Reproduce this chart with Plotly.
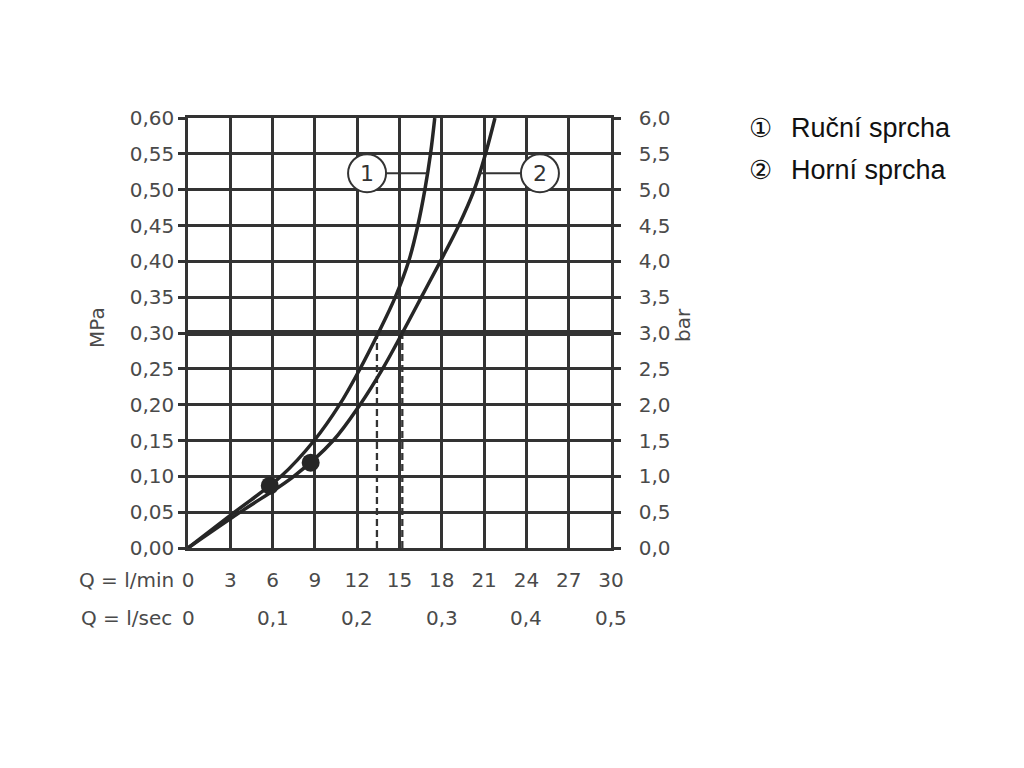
import numpy as np
import plotly.graph_objects as go

# ---------------- data ----------------
q_ticks = [0, 3, 6, 9, 12, 15, 18, 21, 24, 27, 30]
q_tick_labels = ["0", "3", "6", "9", "12", "15", "18", "21", "24", "27", "30"]
lsec_positions = [0, 6, 12, 18, 24, 30]
lsec_labels = ["0", "0,1", "0,2", "0,3", "0,4", "0,5"]
mpa_ticks = [0.00, 0.05, 0.10, 0.15, 0.20, 0.25, 0.30, 0.35, 0.40, 0.45, 0.50, 0.55, 0.60]
mpa_labels = ["0,00", "0,05", "0,10", "0,15", "0,20", "0,25", "0,30", "0,35",
              "0,40", "0,45", "0,50", "0,55", "0,60"]
bar_ticks = [0.0, 0.5, 1.0, 1.5, 2.0, 2.5, 3.0, 3.5, 4.0, 4.5, 5.0, 5.5, 6.0]
bar_labels = ["0,0", "0,5", "1,0", "1,5", "2,0", "2,5", "3,0", "3,5",
              "4,0", "4,5", "5,0", "5,5", "6,0"]

# curve 1 (Ruční sprcha)
curve1_q = [0, 3.3, 6.6, 8.95, 10.75, 12.2, 13.5, 14.7, 15.65, 16.3, 16.8, 17.2, 17.5]
curve1_p = [0.00, 0.05, 0.10, 0.15, 0.20, 0.25, 0.30, 0.35, 0.40, 0.45, 0.50, 0.55, 0.60]
# curve 2 (Horní sprcha)
curve2_q = [0, 3.7, 7.5, 10.3, 12.2, 13.8, 15.2, 16.55, 17.9, 19.2, 20.3, 21.1, 21.77]
curve2_p = [0.00, 0.05, 0.10, 0.15, 0.20, 0.25, 0.30, 0.35, 0.40, 0.45, 0.50, 0.55, 0.60]

dots_q = [5.8, 8.7]
dots_p = [0.087, 0.119]

ref_pressure = 0.30
ref_flows = [13.4, 15.2]

label_numbers = ["1", "2"]
label_names = ["Ruční sprcha", "Horní sprcha"]
label_symbols = ["\u2460", "\u2461"]

# ---------------- style ----------------
INK = "#333333"
CURVE = "#262626"
TXT = "#4a4a4a"
FONT = "DejaVu Sans"

ML, MT, PW, PH = 180, 110, 423, 430   # plot area (page has 8px body margin)


def px_x(px):
    return (px - 188) / PW


def px_y(py):
    return (548 - py) / PH


fig = go.Figure()

# thick reference line
fig.add_trace(go.Scatter(x=[q_ticks[0], q_ticks[-1]], y=[ref_pressure, ref_pressure],
                         mode="lines", line=dict(color=INK, width=6),
                         hoverinfo="skip", showlegend=False))
# dashed verticals
for fq in ref_flows:
    fig.add_trace(go.Scatter(x=[fq, fq], y=[0, ref_pressure], mode="lines",
                             line=dict(color=INK, width=2.3, dash="7px,4px"),
                             hoverinfo="skip", showlegend=False))

for cq, cp in [(curve1_q, curve1_p), (curve2_q, curve2_p)]:
    fig.add_trace(go.Scatter(x=cq, y=cp, mode="lines",
                             line=dict(color=CURVE, width=3.5, shape="spline", smoothing=1.0),
                             hoverinfo="skip", showlegend=False))

fig.add_trace(go.Scatter(x=dots_q, y=dots_p, mode="markers",
                         marker=dict(color=CURVE, size=18),
                         hoverinfo="skip", showlegend=False))

# dummy trace for right axis
fig.add_trace(go.Scatter(x=[0], y=[0], yaxis="y2", mode="markers",
                         marker=dict(opacity=0), hoverinfo="skip", showlegend=False))

# circled curve labels with connectors
label_y = 0.523
circle_x = [12.7, 24.96]
r_px = 19
px_per_q = PW / 30
curve_at_label = [float(np.interp(label_y, curve1_p, curve1_q)),
                  float(np.interp(label_y, curve2_p, curve2_q))]
shapes = []
annotations = []
for i in range(2):
    cx = circle_x[i]
    edge = cx + r_px / px_per_q if i == 0 else cx - r_px / px_per_q
    shapes.append(dict(type="line", xref="x", yref="y",
                       x0=edge, x1=curve_at_label[i], y0=label_y, y1=label_y,
                       line=dict(color=INK, width=2)))
    shapes.append(dict(type="circle", xref="x", yref="y",
                       xsizemode="pixel", ysizemode="pixel",
                       xanchor=cx, yanchor=label_y,
                       x0=-r_px, x1=r_px, y0=-r_px, y1=r_px,
                       line=dict(color=INK, width=2), fillcolor="white"))
    annotations.append(dict(x=cx, y=label_y, xref="x", yref="y", text=label_numbers[i],
                            showarrow=False, font=dict(family=FONT, size=22, color=INK)))

# l/sec row
for xv, lab in zip(lsec_positions, lsec_labels):
    annotations.append(dict(x=xv, y=0, xref="x", yref="paper", yshift=-70,
                            text=lab, showarrow=False, xanchor="center", yanchor="middle",
                            font=dict(family=FONT, size=20, color=TXT)))
annotations.append(dict(x=0, y=0, xref="paper", yref="paper", xshift=-12, yshift=-32,
                        text="Q = l/min", showarrow=False, xanchor="right", yanchor="middle",
                        font=dict(family=FONT, size=20, color=TXT)))
annotations.append(dict(x=0, y=0, xref="paper", yref="paper", xshift=-14, yshift=-70,
                        text="Q = l/sec", showarrow=False, xanchor="right", yanchor="middle",
                        font=dict(family=FONT, size=20, color=TXT)))
# axis titles
annotations.append(dict(x=px_x(97), y=px_y(328), xref="paper", yref="paper",
                        text="MPa", textangle=-90, showarrow=False,
                        xanchor="center", yanchor="middle",
                        font=dict(family=FONT, size=20, color=TXT)))
annotations.append(dict(x=px_x(683), y=px_y(325), xref="paper", yref="paper",
                        text="bar", textangle=-90, showarrow=False,
                        xanchor="center", yanchor="middle",
                        font=dict(family=FONT, size=20, color=TXT)))
# legend text
legend_y = [128, 170]
for i in range(2):
    annotations.append(dict(x=px_x(760), y=px_y(legend_y[i]), xref="paper", yref="paper",
                            text=label_symbols[i], showarrow=False, xanchor="center",
                            yanchor="middle",
                            font=dict(family="DejaVu Sans", size=26, color="#111111")))
    annotations.append(dict(x=px_x(789), y=px_y(legend_y[i]), xref="paper", yref="paper",
                            text=label_names[i], showarrow=False, xanchor="left",
                            yanchor="middle",
                            font=dict(family="Liberation Sans", size=27, color="#111111")))

fig.update_layout(
    width=1016, height=760, autosize=False,
    margin=dict(l=ML, r=1016 - ML - PW, t=MT, b=760 - MT - PH, pad=0),
    paper_bgcolor="white", plot_bgcolor="white",
    showlegend=False,
    shapes=shapes, annotations=annotations,
    xaxis=dict(range=[0, 30], tickvals=q_ticks, ticktext=q_tick_labels,
               showgrid=True, gridcolor=INK, gridwidth=2.5,
               showline=True, linecolor=INK, linewidth=2.5, mirror=True,
               ticks="", ticklabelstandoff=12, zeroline=False,
               tickfont=dict(family=FONT, size=20, color=TXT), fixedrange=True),
    yaxis=dict(range=[0, 0.6], tickvals=mpa_ticks, ticktext=mpa_labels,
               showgrid=True, gridcolor=INK, gridwidth=2.5,
               showline=True, linecolor=INK, linewidth=2.5,
               ticks="outside", ticklen=7, tickwidth=2.5, tickcolor=INK,
               ticklabelstandoff=0, zeroline=False,
               tickfont=dict(family=FONT, size=20, color=TXT), fixedrange=True),
    yaxis2=dict(range=[0, 6], overlaying="y", side="right",
                tickvals=bar_ticks, ticktext=bar_labels,
                showgrid=False, showline=True, linecolor=INK, linewidth=2.5,
                ticks="outside", ticklen=7, tickwidth=2.5, tickcolor=INK,
                ticklabelstandoff=14, zeroline=False,
                tickfont=dict(family=FONT, size=20, color=TXT), fixedrange=True),
)

fig.write_html("out.html")
